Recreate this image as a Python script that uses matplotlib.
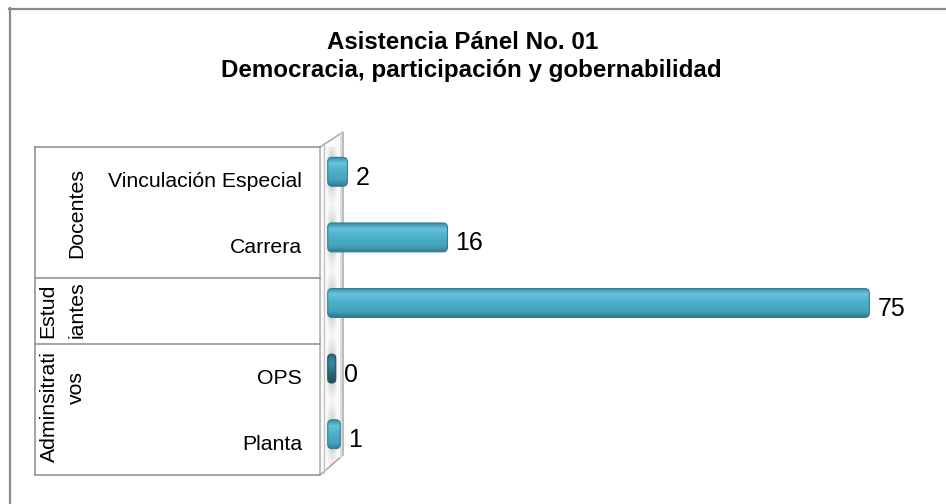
import matplotlib
matplotlib.use('Agg')
import matplotlib.pyplot as plt
import matplotlib.transforms as mtransforms
from matplotlib.patches import FancyBboxPatch, Polygon, Ellipse
from matplotlib.lines import Line2D
from matplotlib.colors import LinearSegmentedColormap
import numpy as np

plt.rcParams['font.family'] = ['Liberation Sans', 'DejaVu Sans']

# ---------------- data ----------------
title_lines = ['Asistencia Pánel No. 01', 'Democracia, participación y gobernabilidad']
categories = ['Vinculación Especial', 'Carrera', '', 'OPS', 'Planta']
values = [2, 16, 75, 0, 1]
group_labels = [['Docentes'], ['Estud', 'iantes'], ['Adminsitrati', 'vos']]
group_sizes = [2, 1, 2]

# ---------------- layout helpers ----------------
W, H = 946, 504
fig = plt.figure(figsize=(W / 100, H / 100), dpi=100)

def fx(px):
    return px / W

def fy(py):
    return 1 - py / H

def px_off(dx, dy):
    # offset in pixels (dy positive = up)
    return mtransforms.ScaledTranslation(dx / 100, dy / 100, fig.dpi_scale_trans)

frame_col = '#8a8a8a'
fig.add_artist(Line2D([fx(9), 1], [fy(8.5), fy(8.5)], color=frame_col, lw=1.6))
fig.add_artist(Line2D([fx(9.5), fx(9.5)], [fy(8), 0], color=frame_col, lw=1.6))

# title
fig.text(fx(463), fy(49), title_lines[0], ha='center', va='baseline',
         fontsize=17.4, fontweight='bold', color='black')
fig.text(fx(471), fy(77), title_lines[1], ha='center', va='baseline',
         fontsize=17.4, fontweight='bold', color='black')

# back wall (3D)
wall = Polygon([(fx(320), fy(147)), (fx(343), fy(132)), (fx(343), fy(455)), (fx(320), fy(475))],
               closed=True, transform=fig.transFigure, facecolor='#fafafa',
               edgecolor='#a9a9a9', lw=1.1, zorder=-2)
fig.add_artist(wall)
fig.add_artist(Line2D([fx(323.5), fx(323.5)], [fy(145), fy(473)], color='#c4c4c4', lw=1.0, zorder=-1))
fig.add_artist(Line2D([fx(341), fx(341)], [fy(134), fy(457)], color='#dddddd', lw=1.4, zorder=-1))

# main axes: rows of the table
ax_left, ax_top, ax_bottom = 320, 147, 475
ax = fig.add_axes([fx(ax_left), fy(ax_bottom), 1 - fx(ax_left), (ax_bottom - ax_top) / H])
ax.patch.set_visible(False)
ax.axis('off')

zero_px, px_per_unit = 332, 7.15
xlim = ((ax_left - zero_px) / px_per_unit, (W - zero_px) / px_per_unit)
n = len(values)
ylim = (n - 0.5, -0.5)
row_px = (ax_bottom - ax_top) / n

bar_h = 0.44
depth_shift = px_off(0, 8)
bar_trans = ax.transData + depth_shift

cmap_norm = LinearSegmentedColormap.from_list(
    'bar', ['#3d8ea4', '#66c4dc', '#52b4cd', '#4aaac4', '#45a3bd', '#2f7b90'])
cmap_zero = LinearSegmentedColormap.from_list(
    'bar0', ['#2c6c7e', '#3b8aa0', '#2a6576', '#1f5161'])
grad = np.linspace(0, 1, 64).reshape(-1, 1)
min_w = 8 / px_per_unit

for i, v in enumerate(values):
    # blurred shadow on the wall
    for k, a in [(1.0, 0.06), (0.8, 0.08), (0.6, 0.10), (0.4, 0.12)]:
        sh = Ellipse((0.0, i), width=(10 * k + 2) / px_per_unit, height=bar_h * 2.3 * k,
                     transform=bar_trans, facecolor='#6e6e6e', edgecolor='none',
                     alpha=a, zorder=1)
        ax.add_patch(sh)

    x0 = -0.6
    x1 = max(v + 0.15, x0 + min_w)
    w = x1 - x0
    r = min(4.5 / px_per_unit, w / 2)
    aspect = px_per_unit / row_px
    patch = FancyBboxPatch((x0, i - bar_h / 2), w, bar_h,
                           boxstyle=f'round,pad=0,rounding_size={r}',
                           mutation_aspect=aspect,
                           transform=bar_trans, facecolor='none',
                           edgecolor='#2f7d92' if v > 0 else '#1f5161', lw=0.8, zorder=3)
    ax.add_patch(patch)
    im = ax.imshow(grad, cmap=cmap_norm if v > 0 else cmap_zero, aspect='auto',
                   extent=(x0, x1, i + bar_h / 2, i - bar_h / 2),
                   transform=bar_trans, zorder=2, interpolation='bilinear')
    im.set_clip_path(patch)

    # value label
    ax.annotate(str(v), xy=(x1, i), xycoords=bar_trans,
                xytext=(8, -13), textcoords='offset pixels',
                ha='left', va='baseline', fontsize=18, color='black',
                annotation_clip=False)

ax.set_xlim(*xlim)
ax.set_ylim(*ylim)

# category labels (right aligned, left of the wall)
lab_trans = mtransforms.blended_transform_factory(fig.transFigure, ax.transData)
for i, c in enumerate(categories):
    if c:
        fig.text(fx(302), i, c, transform=lab_trans + px_off(0, -7.6),
                 ha='right', va='baseline', fontsize=15.3, color='black')

# table lines
line_col = '#8c8c8c'
bounds = [-0.5]
for s in group_sizes:
    bounds.append(bounds[-1] + s)
for b in bounds:
    fig.add_artist(Line2D([fx(35), fx(ax_left)], [b, b], transform=lab_trans,
                          color=line_col, lw=1.1))
fig.add_artist(Line2D([fx(35), fx(35)], [bounds[0], bounds[-1]], transform=lab_trans,
                      color=line_col, lw=1.1))

# group labels (rotated)
def rot_text(xpx, y, dy, s, ha):
    fig.text(fx(xpx), y, s, transform=lab_trans + px_off(0, dy), rotation=90,
             rotation_mode='anchor', ha=ha, va='baseline', fontsize=15.3, color='black')

centers = [(bounds[k] + bounds[k + 1]) / 2 for k in range(len(group_sizes))]
# Docentes
rot_text(82, centers[0], 0, group_labels[0][0], 'center')
# Estud / iantes (left aligned -> start at bottom)
rot_text(53, centers[1], -27, group_labels[1][0], 'left')
rot_text(83, centers[1], -27, group_labels[1][1], 'left')
# Adminsitrati / vos
rot_text(55, centers[2], 3, group_labels[2][0], 'center')
rot_text(82, centers[2], 22, group_labels[2][1], 'center')

fig.savefig('out.png', dpi=100)
